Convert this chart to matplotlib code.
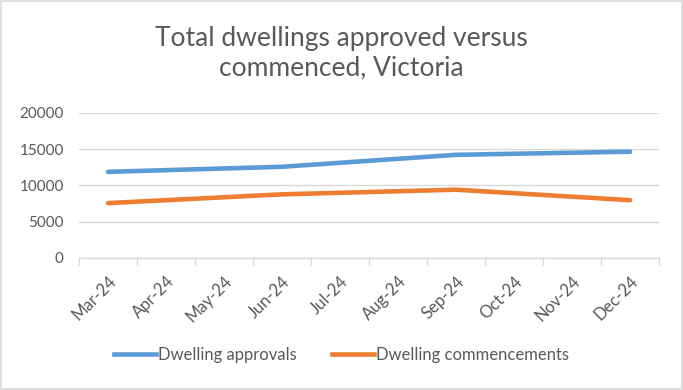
import matplotlib
matplotlib.use("Agg")
import matplotlib.pyplot as plt
import numpy as np
from matplotlib.lines import Line2D

months = ["Mar-24", "Apr-24", "May-24", "Jun-24", "Jul-24", "Aug-24",
          "Sep-24", "Oct-24", "Nov-24", "Dec-24"]
quarter_labels = ["Mar-24", "Jun-24", "Sep-24", "Dec-24"]
approvals = [11880, 12580, 14230, 14660]
commencements = [7570, 8780, 9420, 7970]

TEXT = "#595959"
GRID = "#D9D9D9"
BLUE = "#5B9BD5"
ORANGE = "#ED7D31"
plt.rcParams['font.family'] = ['Lato', 'DejaVu Sans']

fig = plt.figure(figsize=(6.83, 3.90), dpi=100)
fig.patch.set_facecolor("white")
# outer border
fig.add_artist(plt.Rectangle((0.0015, 0.0025), 0.997, 0.995, transform=fig.transFigure,
                             fill=False, edgecolor="#D9D9D9", linewidth=1.2))

ax = fig.add_axes([0.1157, 0.3385, 0.8493, 0.3718])
xpos = [months.index(m) for m in quarter_labels]
ax.plot(xpos, approvals, color=BLUE, linewidth=3.3, solid_capstyle="round",
        label="Dwelling approvals", zorder=3)
ax.plot(xpos, commencements, color=ORANGE, linewidth=3.3, solid_capstyle="round",
        label="Dwelling commencements", zorder=3)

ax.set_xlim(-0.5, len(months) - 0.5)
ax.set_ylim(0, 20000)
ax.set_yticks(np.arange(0, 20001, 5000))
ax.set_yticklabels([str(v) for v in range(0, 20001, 5000)], color=TEXT, fontsize=11)
ax.yaxis.grid(True, color=GRID, linewidth=1.0)
ax.set_axisbelow(True)
ax.tick_params(axis="y", length=0, pad=11)

ax.set_xticks(np.arange(len(months)))
ax.set_xticklabels(months, rotation=45, ha="right", rotation_mode="anchor",
                   color=TEXT, fontsize=12)
ax.tick_params(axis="x", length=0, pad=11)
ax.set_xticks(np.arange(-0.5, len(months)), minor=True)
ax.tick_params(axis="x", which="minor", length=5, color=GRID, width=1.0)

for s in ["top", "right", "left"]:
    ax.spines[s].set_visible(False)
ax.spines["bottom"].set_color(GRID)
ax.spines["bottom"].set_linewidth(1.0)

fig.text(0.5, 0.864, "Total dwellings approved versus\ncommenced, Victoria",
         ha="center", va="center", fontsize=19, color=TEXT, linespacing=1.25)

handles = [Line2D([0], [0], color=BLUE, linewidth=3.3),
           Line2D([0], [0], color=ORANGE, linewidth=3.3)]
fig.legend(handles, ["Dwelling approvals", "Dwelling commencements"],
           loc="center", bbox_to_anchor=(0.5, 0.09), ncol=2, frameon=False,
           fontsize=12, labelcolor=TEXT, handlelength=2.5, handletextpad=0.15,
           columnspacing=2.1)

fig.savefig("out.png", dpi=100, facecolor="white")
